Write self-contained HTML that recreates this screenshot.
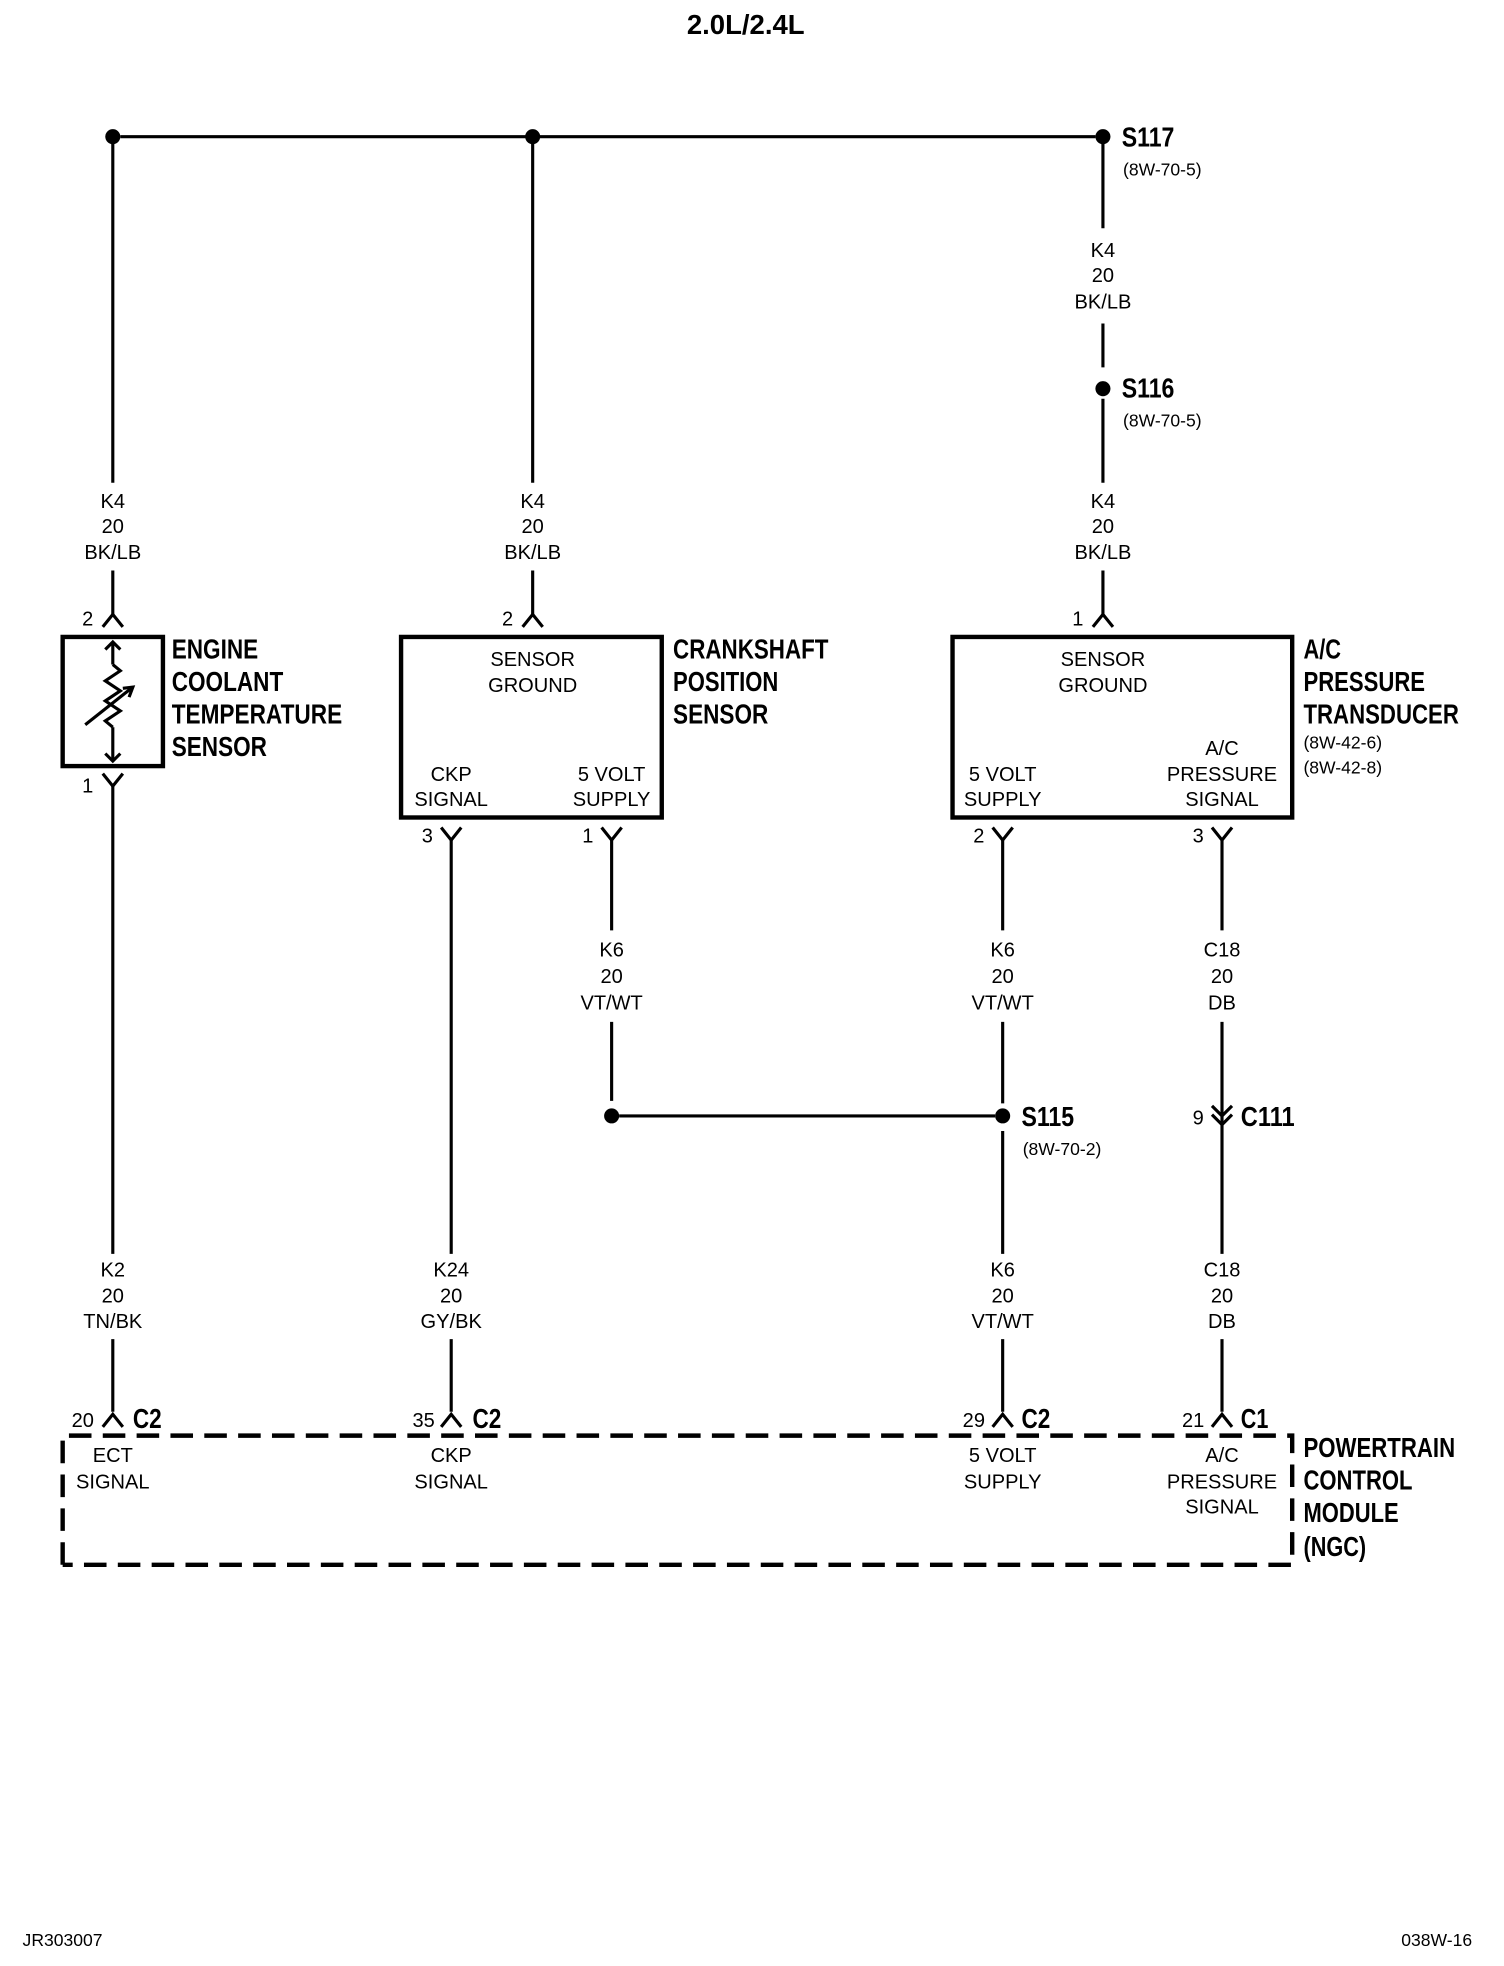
<!DOCTYPE html>
<html><head><meta charset="utf-8"><style>
html,body{margin:0;padding:0;background:#fff}
svg{display:block}
text{font-family:"Liberation Sans Narrow","Liberation Sans",sans-serif;fill:#000}
.s{font-size:16px;text-anchor:middle}
.b{font-size:22px;font-weight:bold}
.r{font-size:14px}
</style></head><body>
<svg width="1504" height="1966" viewBox="0 0 1200 1568" xmlns="http://www.w3.org/2000/svg" preserveAspectRatio="none">
<g stroke="#000" stroke-width="2.5" fill="none">
<line x1="96" y1="109" x2="874" y2="109"/>
<line x1="90" y1="109" x2="90" y2="385"/><line x1="90" y1="455" x2="90" y2="490"/>
<polyline points="82,500 90,490 98,500"/>
<line x1="425" y1="109" x2="425" y2="385"/><line x1="425" y1="455" x2="425" y2="490"/>
<polyline points="417,500 425,490 433,500"/>
<line x1="880" y1="109" x2="880" y2="182"/><line x1="880" y1="258" x2="880" y2="293"/>
<line x1="880" y1="318" x2="880" y2="385"/><line x1="880" y1="455" x2="880" y2="490"/>
<polyline points="872,500 880,490 888,500"/>
<rect x="50" y="508" width="80" height="103" stroke-width="3.5"/>
<line x1="90" y1="512" x2="90" y2="530"/>
<polyline points="84,518 90,512 96,518"/>
<polyline points="90,530 96,535 84,543 96,551 84,559 96,567 84,575 90,580"/>
<line x1="90" y1="580" x2="90" y2="607"/>
<polyline points="84,601 90,607 96,601"/>
<line x1="68" y1="578" x2="106" y2="548"/>
<polyline points="98,549 106,548 103,556"/>
<polyline points="82,617 90,627 98,617"/>
<line x1="90" y1="627" x2="90" y2="1000"/><line x1="90" y1="1068" x2="90" y2="1126"/>
<polyline points="82,1138 90,1128 98,1138"/>
<rect x="320" y="508" width="208" height="144" stroke-width="3.5"/>
<polyline points="352,660 360,670 368,660"/>
<line x1="360" y1="670" x2="360" y2="1000"/><line x1="360" y1="1068" x2="360" y2="1126"/>
<polyline points="352,1138 360,1128 368,1138"/>
<polyline points="480,660 488,670 496,660"/>
<line x1="488" y1="670" x2="488" y2="742"/><line x1="488" y1="815" x2="488" y2="878"/>
<line x1="494" y1="890" x2="794" y2="890"/>
<rect x="760" y="508" width="271" height="144" stroke-width="3.5"/>
<polyline points="792,660 800,670 808,660"/>
<line x1="800" y1="670" x2="800" y2="742"/><line x1="800" y1="815" x2="800" y2="880"/>
<line x1="800" y1="902" x2="800" y2="1000"/><line x1="800" y1="1068" x2="800" y2="1126"/>
<polyline points="792,1138 800,1128 808,1138"/>
<polyline points="967,660 975,670 983,660"/>
<line x1="975" y1="670" x2="975" y2="742"/><line x1="975" y1="815" x2="975" y2="896"/>
<polyline points="967,882 975,890 983,882"/><polyline points="967,889 975,897 983,889"/>
<line x1="975" y1="897" x2="975" y2="1000"/><line x1="975" y1="1068" x2="975" y2="1126"/>
<polyline points="967,1138 975,1128 983,1138"/>
<polyline points="50,1248 50,1145 1031,1145 1031,1248 50,1248" stroke-width="3.5" stroke-dasharray="18,9"/>
</g>
<g fill="#000">
<circle cx="90" cy="109" r="6"/><circle cx="425" cy="109" r="6"/><circle cx="880" cy="109" r="6"/>
<circle cx="880" cy="310" r="6"/><circle cx="488" cy="890" r="6"/><circle cx="800" cy="890" r="6"/>
</g>
<g lengthAdjust="spacingAndGlyphs">
<text x="548" y="27" class="b" font-size="22" textLength="94" lengthAdjust="spacingAndGlyphs">2.0L/2.4L</text>
<text x="895" y="117" class="b" font-size="20" textLength="42" lengthAdjust="spacingAndGlyphs">S117</text>
<text x="895" y="317" class="b" font-size="20" textLength="42" lengthAdjust="spacingAndGlyphs">S116</text>
<text x="815" y="898" class="b" font-size="20" textLength="42" lengthAdjust="spacingAndGlyphs">S115</text>
<text x="990" y="898" class="b" font-size="20" textLength="43" lengthAdjust="spacingAndGlyphs">C111</text>
<text x="106" y="1139" class="b" font-size="20" textLength="23" lengthAdjust="spacingAndGlyphs">C2</text>
<text x="377" y="1139" class="b" font-size="20" textLength="23" lengthAdjust="spacingAndGlyphs">C2</text>
<text x="815" y="1139" class="b" font-size="20" textLength="23" lengthAdjust="spacingAndGlyphs">C2</text>
<text x="990" y="1139" class="b" font-size="20" textLength="22" lengthAdjust="spacingAndGlyphs">C1</text>
<text x="137" y="525" class="b" textLength="69" lengthAdjust="spacingAndGlyphs">ENGINE</text>
<text x="137" y="551" class="b" textLength="89" lengthAdjust="spacingAndGlyphs">COOLANT</text>
<text x="137" y="577" class="b" textLength="136" lengthAdjust="spacingAndGlyphs">TEMPERATURE</text>
<text x="137" y="603" class="b" textLength="76" lengthAdjust="spacingAndGlyphs">SENSOR</text>
<text x="537" y="525" class="b" textLength="124" lengthAdjust="spacingAndGlyphs">CRANKSHAFT</text>
<text x="537" y="551" class="b" textLength="84" lengthAdjust="spacingAndGlyphs">POSITION</text>
<text x="537" y="577" class="b" textLength="76" lengthAdjust="spacingAndGlyphs">SENSOR</text>
<text x="1040" y="525" class="b" textLength="30" lengthAdjust="spacingAndGlyphs">A/C</text>
<text x="1040" y="551" class="b" textLength="97" lengthAdjust="spacingAndGlyphs">PRESSURE</text>
<text x="1040" y="577" class="b" textLength="124" lengthAdjust="spacingAndGlyphs">TRANSDUCER</text>
<text x="1040" y="1162" class="b" textLength="121" lengthAdjust="spacingAndGlyphs">POWERTRAIN</text>
<text x="1040" y="1188" class="b" textLength="87" lengthAdjust="spacingAndGlyphs">CONTROL</text>
<text x="1040" y="1214" class="b" textLength="76" lengthAdjust="spacingAndGlyphs">MODULE</text>
<text x="1040" y="1241" class="b" textLength="50" lengthAdjust="spacingAndGlyphs">(NGC)</text>
</g>
<text x="896" y="140" class="r">(8W-70-5)</text>
<text x="896" y="340" class="r">(8W-70-5)</text>
<text x="816" y="921" class="r">(8W-70-2)</text>
<g class="s">
<text x="880" y="205">K4</text><text x="880" y="225">20</text><text x="880" y="246">BK/LB</text>
<text x="90" y="405">K4</text><text x="90" y="425">20</text><text x="90" y="446">BK/LB</text>
<text x="425" y="405">K4</text><text x="425" y="425">20</text><text x="425" y="446">BK/LB</text>
<text x="880" y="405">K4</text><text x="880" y="425">20</text><text x="880" y="446">BK/LB</text>
<text x="70" y="499">2</text><text x="405" y="499">2</text><text x="860" y="499">1</text>
<text x="70" y="632">1</text><text x="341" y="672">3</text><text x="469" y="672">1</text>
<text x="781" y="672">2</text><text x="956" y="672">3</text>
<text x="425" y="531">SENSOR</text><text x="425" y="552">GROUND</text>
<text x="360" y="623">CKP</text><text x="360" y="643">SIGNAL</text>
<text x="488" y="623">5 VOLT</text><text x="488" y="643">SUPPLY</text>
<text x="880" y="531">SENSOR</text><text x="880" y="552">GROUND</text>
<text x="800" y="623">5 VOLT</text><text x="800" y="643">SUPPLY</text>
<text x="975" y="602">A/C</text><text x="975" y="623">PRESSURE</text><text x="975" y="643">SIGNAL</text>
<text x="488" y="763">K6</text><text x="488" y="784">20</text><text x="488" y="805">VT/WT</text>
<text x="800" y="763">K6</text><text x="800" y="784">20</text><text x="800" y="805">VT/WT</text>
<text x="975" y="763">C18</text><text x="975" y="784">20</text><text x="975" y="805">DB</text>
<text x="956" y="897">9</text>
<text x="90" y="1018">K2</text><text x="90" y="1039">20</text><text x="90" y="1059">TN/BK</text>
<text x="360" y="1018">K24</text><text x="360" y="1039">20</text><text x="360" y="1059">GY/BK</text>
<text x="800" y="1018">K6</text><text x="800" y="1039">20</text><text x="800" y="1059">VT/WT</text>
<text x="975" y="1018">C18</text><text x="975" y="1039">20</text><text x="975" y="1059">DB</text>
<text x="66" y="1138">20</text><text x="338" y="1138">35</text><text x="777" y="1138">29</text><text x="952" y="1138">21</text>
<text x="90" y="1166">ECT</text><text x="90" y="1187">SIGNAL</text>
<text x="360" y="1166">CKP</text><text x="360" y="1187">SIGNAL</text>
<text x="800" y="1166">5 VOLT</text><text x="800" y="1187">SUPPLY</text>
<text x="975" y="1166">A/C</text><text x="975" y="1187">PRESSURE</text><text x="975" y="1207">SIGNAL</text>
</g>
<text x="1040" y="597" class="r">(8W-42-6)</text><text x="1040" y="617" class="r">(8W-42-8)</text>
<text x="18" y="1552" class="r">JR303007</text><text x="1118" y="1552" class="r">038W-16</text>
</svg>
</body></html>
